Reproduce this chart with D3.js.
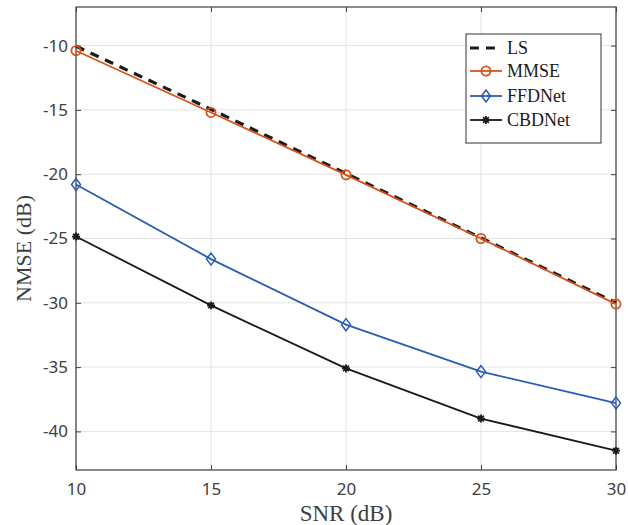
<!DOCTYPE html>
<html><head><meta charset="utf-8">
<script src="https://cdn.jsdelivr.net/npm/d3@7"></script>
<style>body{margin:0;background:#fff}</style>
</head><body>
<script>
const snr = [10, 15, 20, 25, 30];
const lsVals = [-10.05, -14.95, -19.95, -24.95, -30.0];
const mmseVals = [-10.4, -15.2, -20.05, -25.0, -30.1];
const ffdVals = [-20.8, -26.6, -31.7, -35.35, -37.8];
const cbdVals = [-24.85, -30.2, -35.1, -39.0, -41.5];
const xTicks = [10, 15, 20, 25, 30];
const yTicks = [-40, -35, -30, -25, -20, -15, -10];
const seriesNames = ["LS", "MMSE", "FFDNet", "CBDNet"];

const W = 628, H = 525;
const m = {left: 76, right: 12, top: 7, bottom: 55};
const iw = W - m.left - m.right, ih = H - m.top - m.bottom;
const svg = d3.select("body").append("svg").attr("width", W).attr("height", H);
const g = svg.append("g").attr("transform", `translate(${m.left},${m.top})`);
const x = d3.scaleLinear().domain([10, 30]).range([0, iw]);
const y = d3.scaleLinear().domain([-43, -7]).range([ih, 0]);

// grid
g.append("g").selectAll("line").data(xTicks).join("line")
  .attr("x1", d => x(d)).attr("x2", d => x(d)).attr("y1", 0).attr("y2", ih)
  .attr("stroke", "#e3e3e3").attr("stroke-width", 1);
g.append("g").selectAll("line").data(yTicks).join("line")
  .attr("x1", 0).attr("x2", iw).attr("y1", d => y(d)).attr("y2", d => y(d))
  .attr("stroke", "#e3e3e3").attr("stroke-width", 1);

const tickFont = "'Noto Sans', 'Open Sans', sans-serif";
const axCol = "#404040";
const fmt = d => String(d);
function styleAxis(sel, showText) {
  sel.select(".domain").remove();
  sel.selectAll(".tick line").attr("stroke", axCol).attr("stroke-width", 1);
  sel.selectAll(".tick text").attr("fill", axCol).style("font-family", tickFont).style("font-size", "17px");
  if (!showText) sel.selectAll(".tick text").remove();
}
const xa = g.append("g").attr("transform", `translate(0,${ih})`)
  .call(d3.axisBottom(x).tickValues(xTicks).tickSize(-5).tickPadding(13).tickFormat(fmt));
styleAxis(xa, true);
const xt = g.append("g").call(d3.axisTop(x).tickValues(xTicks).tickSize(-5).tickFormat(""));
styleAxis(xt, false);
const ya = g.append("g").call(d3.axisLeft(y).tickValues(yTicks).tickSize(-5).tickPadding(8).tickFormat(fmt));
styleAxis(ya, true);
const yr = g.append("g").attr("transform", `translate(${iw},0)`)
  .call(d3.axisRight(y).tickValues(yTicks).tickSize(-5).tickFormat(""));
styleAxis(yr, false);

// box
g.append("rect").attr("x", 0).attr("y", 0).attr("width", iw).attr("height", ih)
  .attr("fill", "none").attr("stroke", axCol).attr("stroke-width", 1.2);

const colors = {LS: "#1a1a1a", MMSE: "#d95319", FFDNet: "#2a5cb4", CBDNet: "#1a1a1a"};
const data = {LS: lsVals, MMSE: mmseVals, FFDNet: ffdVals, CBDNet: cbdVals};
const line = d3.line().x((d, i) => x(snr[i])).y(d => y(d));

function drawMarker(sel, name, cx, cy) {
  const c = colors[name];
  if (name === "MMSE") {
    sel.append("circle").attr("cx", cx).attr("cy", cy).attr("r", 4.6)
      .attr("fill", "none").attr("stroke", c).attr("stroke-width", 1.8);
  } else if (name === "FFDNet") {
    sel.append("path").attr("d", `M${cx},${cy-6}L${cx+4.5},${cy}L${cx},${cy+6}L${cx-4.5},${cy}Z`)
      .attr("fill", "none").attr("stroke", c).attr("stroke-width", 1.5);
  } else if (name === "CBDNet") {
    const r = 4;
    let p = "";
    for (let k = 0; k < 4; k++) {
      const a = k * Math.PI / 4;
      p += `M${cx - r*Math.cos(a)},${cy - r*Math.sin(a)}L${cx + r*Math.cos(a)},${cy + r*Math.sin(a)}`;
    }
    sel.append("path").attr("d", p).attr("stroke", c).attr("stroke-width", 1.8);
  }
}

const order = ["LS", "MMSE", "FFDNet", "CBDNet"];
order.forEach(name => {
  const gg = g.append("g");
  const p = gg.append("path").datum(data[name]).attr("d", line).attr("fill", "none")
    .attr("stroke", colors[name]);
  if (name === "LS") p.attr("stroke-width", 3.2).attr("stroke-dasharray", "9,7");
  else p.attr("stroke-width", 1.8);
  data[name].forEach((v, i) => drawMarker(gg, name, x(snr[i]), y(v)));
});

// axis labels
const serif = "'Liberation Serif', 'Times New Roman', serif";
svg.append("text").attr("x", m.left + iw / 2).attr("y", 521).attr("text-anchor", "middle")
  .style("font-family", serif).style("font-size", "23px").attr("fill", axCol).text("SNR (dB)");
svg.append("text").attr("transform", `translate(31,${m.top + ih / 2 + 10}) rotate(-90)`).attr("text-anchor", "middle")
  .style("font-family", serif).style("font-size", "22px").attr("fill", axCol).text("NMSE (dB)");

// legend
const lg = svg.append("g");
lg.append("rect").attr("x", 466).attr("y", 34).attr("width", 135).attr("height", 109)
  .attr("fill", "#fff").attr("stroke", "#333").attr("stroke-width", 1);
const ly = [48, 71, 96, 120];
seriesNames.forEach((name, i) => {
  const yy = ly[i];
  const l = lg.append("line").attr("x1", 470).attr("x2", 502).attr("y1", yy).attr("y2", yy)
    .attr("stroke", colors[name]);
  if (name === "LS") l.attr("stroke-width", 3.2).attr("stroke-dasharray", "9,7");
  else l.attr("stroke-width", 1.8);
  drawMarker(lg, name, 486, yy);
  lg.append("text").attr("x", 507).attr("y", yy + 6).style("font-family", serif)
    .style("font-size", "18px").attr("fill", "#1a1a1a").text(name);
});
</script>
</body></html>
